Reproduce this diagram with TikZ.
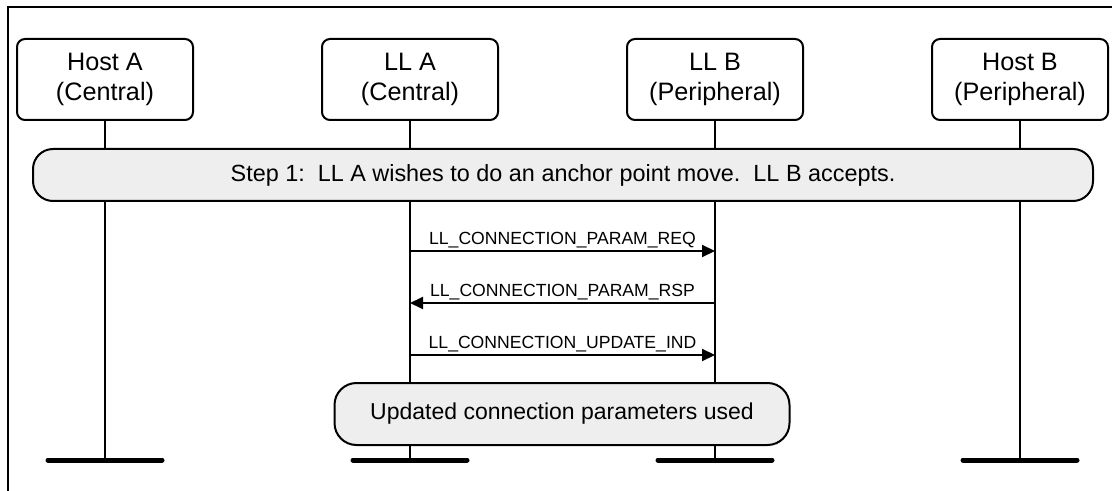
\documentclass[tikz,border=0pt]{standalone}
\usepackage{fontspec}
\setmainfont{Liberation Sans}
\usepackage{xcolor}
\usetikzlibrary{arrows.meta,positioning}
\definecolor{bandfill}{RGB}{238,238,238}

\begin{document}
\begin{tikzpicture}[x=0.5pt,y=-0.5pt,>={Triangle[length=6.5pt,width=6pt]},
      node distance=0pt and 64.5pt,
      actor/.style={draw,line width=1pt,outer sep=0pt,rounded corners=4pt,minimum width=88pt,minimum height=40.5pt,align=center,font=\fontsize{12.6}{14.8}\selectfont},
      band/.style={draw,line width=1pt,fill=bandfill,rounded corners=10pt,font=\fontsize{11.7}{14}\selectfont},
      life/.style={line width=1pt},
      foot/.style={line width=2.5pt,line cap=round},
      msg/.style={->,line width=1pt},
      msglabel/.style={above,inner sep=1.2pt,font=\fontsize{8.8}{10}\selectfont}]
    \useasboundingbox (0,0) rectangle (1112,491);
    \draw[line width=1pt] (8,491) -- (8,7) -- (1112,7);
    \node[actor] (hostA) at (105,79.5) {Host A\\(Central)};
    \node[actor,right=of hostA] (llA) {LL A\\(Central)};
    \node[actor,right=of llA] (llB) {LL B\\(Peripheral)};
    \node[actor,right=of llB] (hostB) {Host B\\(Peripheral)};
    \coordinate (bottom) at (0,460);
    \foreach \n in {hostA,llA,llB,hostB} {
      \coordinate (\n end) at (\n |- bottom);
      \draw[life] (\n.south) -- (\n end);
      \draw[foot] ([xshift=-28.5pt]\n end) -- ([xshift=28.5pt]\n end);
    }
    \node[band,minimum width=530pt,minimum height=26pt] (step) at (563,175) {Step 1:\ \ LL A wishes to do an anchor point move.\ \ LL B accepts.};
    \coordinate (row1) at (0,251);
    \coordinate (row2) at (0,303);
    \coordinate (row3) at (0,355);
    \draw[msg] (llA |- row1) -- node[msglabel]{LL\_CONNECTION\_PARAM\_REQ} (llB |- row1);
    \draw[msg] (llB |- row2) -- node[msglabel]{LL\_CONNECTION\_PARAM\_RSP} (llA |- row2);
    \draw[msg] (llA |- row3) -- node[msglabel]{LL\_CONNECTION\_UPDATE\_IND} (llB |- row3);
    \node[band,rounded corners=11pt,minimum width=227.5pt,minimum height=31pt,font=\fontsize{11.5}{14}\selectfont] (updated) at (562,414) {Updated connection parameters used};
  \end{tikzpicture}
\end{document}
